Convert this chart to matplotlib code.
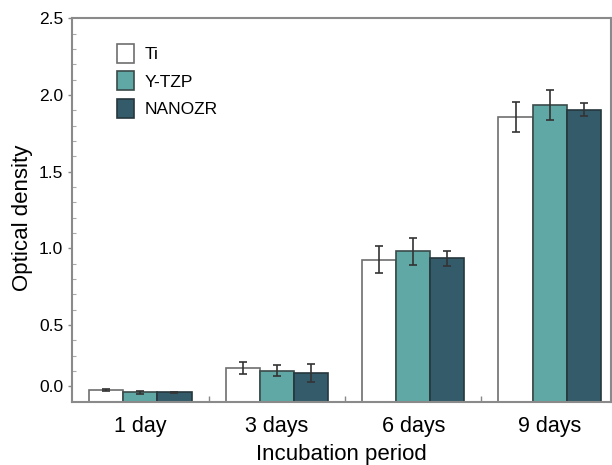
import matplotlib
matplotlib.use("Agg")
import matplotlib.pyplot as plt
import numpy as np
from matplotlib.ticker import FixedLocator, FixedFormatter

plt.rcParams['font.family'] = ['Liberation Sans', 'DejaVu Sans']

categories = ["1 day", "3 days", "6 days", "9 days"]
series = ["Ti", "Y-TZP", "NANOZR"]
ti_vals = [0.076, 0.220, 0.926, 1.859]
ti_err = [0.007, 0.040, 0.087, 0.097]
ytzp_vals = [0.061, 0.202, 0.980, 1.936]
ytzp_err = [0.010, 0.037, 0.088, 0.097]
nano_vals = [0.061, 0.189, 0.937, 1.906]
nano_err = [0.004, 0.059, 0.049, 0.042]
ytick_pos = [0.1, 0.5, 1.0, 1.5, 2.0, 2.5]
ytick_labels = ["0.0", "0.5", "1.0", "1.5", "2.0", "2.5"]

colors = ["#ffffff", "#5fa8a5", "#345b69"]
edges = ["#6e6e6e", "#3a4a4a", "#26363c"]

fig = plt.figure(figsize=(6.12, 4.65), dpi=100)
ax = fig.add_axes([71.5/612, (465-401.7)/465, (611-71.5)/612, (401.7-18.5)/465])

x = np.arange(len(categories))
w = 0.25
data = [(ti_vals, ti_err), (ytzp_vals, ytzp_err), (nano_vals, nano_err)]
for i, (vals, errs) in enumerate(data):
    ax.bar(x + (i - 1) * w, vals, width=w, color=colors[i], edgecolor=edges[i],
           linewidth=1.2, label=series[i], zorder=2)
    ax.errorbar(x + (i - 1) * w, vals, yerr=errs, fmt='none', ecolor='#333333',
                elinewidth=1.2, capsize=3, capthick=1.2, zorder=3)

ax.set_xlim(-0.505, 3.45)
ax.set_ylim(0, 2.5)

ax.yaxis.set_major_locator(FixedLocator(ytick_pos))
ax.yaxis.set_major_formatter(FixedFormatter(ytick_labels))
ax.yaxis.set_minor_locator(FixedLocator([0.2, 0.3, 0.4, 0.6, 0.7, 0.8, 0.9, 1.1, 1.2, 1.3, 1.4,
                                         1.6, 1.7, 1.8, 1.9, 2.1, 2.2, 2.3, 2.4]))
ax.tick_params(axis='y', which='major', direction='out', length=3, width=1, color='#888888',
               labelsize=12.5, pad=3)
ax.tick_params(axis='y', which='minor', direction='in', length=3, width=0.8, color='#aaaaaa')

ax.set_xticks(x)
ax.set_xticklabels(categories)
ax.xaxis.set_minor_locator(FixedLocator([0.5, 1.5, 2.5]))
ax.tick_params(axis='x', which='major', length=0, labelsize=15.5, pad=10)
ax.tick_params(axis='x', which='minor', direction='in', length=4, width=1, color='#888888')

for s in ax.spines.values():
    s.set_color('#8a8a8a')
    s.set_linewidth(1.5)

ax.set_xlabel("Incubation period", fontsize=16, labelpad=5)
ax.set_ylabel("Optical density", fontsize=16)
ax.yaxis.set_label_coords(-0.072, 0.48)

leg = ax.legend(loc='upper left', bbox_to_anchor=(0.055, 0.975), frameon=False, fontsize=12.5,
                handlelength=1.0, handleheight=1.3, handletextpad=0.6, labelspacing=0.5)

fig.savefig("out.png", dpi=100)
